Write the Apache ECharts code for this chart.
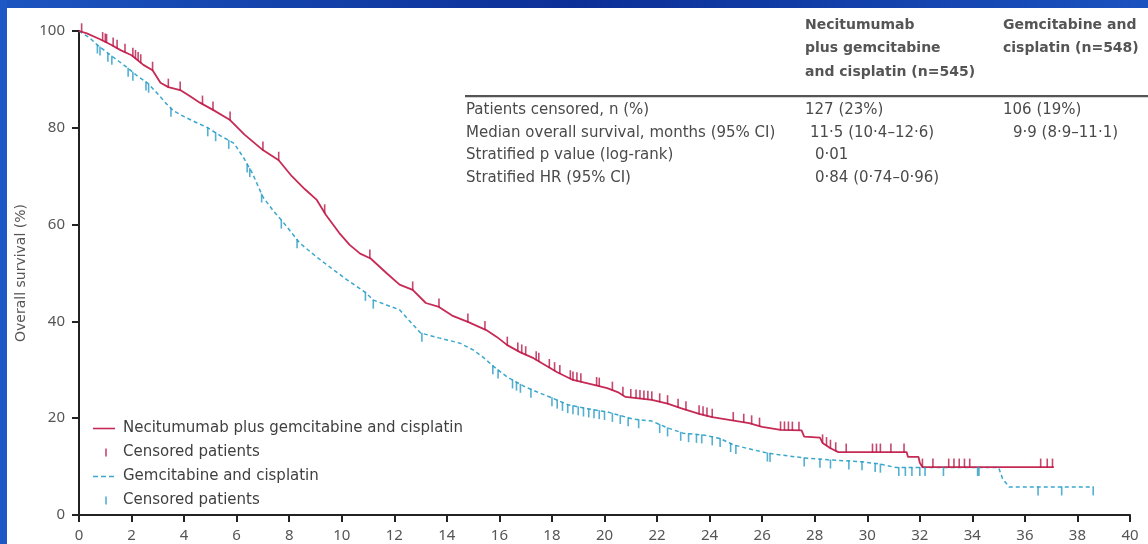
<!DOCTYPE html>
<html><head><meta charset="utf-8">
<script src="https://cdn.jsdelivr.net/npm/echarts@6/dist/echarts.min.js"></script>
<style>html,body{margin:0;padding:0;background:#fff}#c{width:1148px;height:544px}</style>
</head><body><div id="c"></div>
<script>
// ---------- data ----------
const xTickLabels = ['0','2','4','6','8','10','12','14','16','18','20','22','24','26','28','30','32','34','36','38','40'];
const yTickLabels = ['0','20','40','60','80','100'];

// Kaplan-Meier curves: [month, overall survival %]
const necitumumabCurve = [
  [0,100],[0.3,99.5],[0.8,98.3],[1.2,97.2],[1.6,96.0],[2.0,95.0],[2.45,93.0],[2.8,91.9],[3.1,89.3],[3.4,88.4],
  [3.85,87.8],[4.2,86.6],[4.6,85.2],[5.1,83.7],[5.75,81.6],[6.3,78.6],[7.0,75.4],[7.6,73.3],[8.1,70.0],[8.6,67.3],
  [9.05,65.1],[9.4,62.0],[9.9,58.3],[10.3,55.8],[10.7,54.0],[11.1,53.0],[11.7,50.0],[12.2,47.6],[12.7,46.5],[13.2,43.8],
  [13.7,43.0],[14.2,41.2],[14.8,39.9],[15.5,38.2],[15.9,36.8],[16.3,35.1],[16.8,33.6],[17.3,32.4],[17.8,30.8],[18.2,29.5],
  [18.8,27.9],[19.6,26.9],[20.1,26.2],[20.5,25.4],[20.8,24.4],[21.8,23.8],[22.4,23.0],[22.9,22.1],[23.6,20.9],[24.1,20.2],
  [24.8,19.6],[25.5,19.0],[26.0,18.2],[26.7,17.6],[27.5,17.5],[27.6,16.2],[28.2,16.0],[28.3,14.9],[28.6,13.8],[28.9,13.0],
  [31.5,13.0],[31.55,12.0],[31.95,12.0],[32.0,10.8],[32.1,9.9],[37.1,9.9]
];
const controlCurve = [
  [0,100],[0.4,98.6],[0.7,97.1],[1.2,95.0],[1.5,93.8],[1.8,92.6],[2.2,90.8],[2.6,89.3],[3.0,87.0],[3.3,85.1],
  [3.6,83.5],[4.0,82.3],[4.5,81.0],[4.9,80.0],[5.4,78.3],[5.9,76.8],[6.3,73.5],[6.6,70.6],[7.0,65.7],[7.4,62.8],
  [7.8,60.3],[8.4,56.2],[9.0,53.5],[9.7,50.6],[10.2,48.6],[10.9,46.0],[11.2,44.4],[11.7,43.4],[12.2,42.4],[12.6,40.0],
  [13.0,37.6],[13.7,36.6],[14.5,35.5],[15.0,34.1],[15.4,32.5],[15.8,30.6],[16.3,28.5],[17.0,26.4],[18.0,24.2],[18.6,22.8],
  [19.3,22.0],[20.1,21.3],[21.1,19.8],[21.8,19.4],[22.4,18.0],[23.0,16.9],[23.8,16.5],[24.4,15.8],[24.9,14.5],[25.4,13.8],
  [26.2,12.8],[26.7,12.4],[27.6,11.8],[28.5,11.4],[29.8,11.0],[30.5,10.5],[31.1,9.8],[35.0,9.8],[35.15,7.5],[35.4,5.8],
  [38.6,5.8]
];
// censoring times (months)
const necitumumabCensorTimes = [
  0.1,0.9,1.0,1.05,1.3,1.45,1.75,2.05,2.15,2.25,2.35,2.8,3.4,3.85,4.7,5.1,5.75,7.0,7.6,9.35,11.07,12.7,13.7,14.8,15.45,
  16.3,16.7,16.85,17.0,17.4,17.5,17.9,18.1,18.3,18.7,18.8,18.95,19.1,19.7,19.8,20.3,20.7,21.0,21.2,21.35,21.5,21.65,21.8,
  22.1,22.4,22.8,23.1,23.6,23.75,23.9,24.1,24.9,25.3,25.6,25.9,26.7,26.85,27.0,27.15,27.4,28.3,28.45,28.6,28.8,29.2,
  30.2,30.35,30.5,30.9,31.4,32.1,32.5,33.1,33.3,33.5,33.7,33.9,36.6,36.85,37.05
];
const controlCensorTimes = [
  0.7,0.8,1.1,1.25,1.87,2.05,2.55,2.65,3.5,4.9,5.2,5.7,6.4,6.5,6.95,7.7,8.3,10.9,11.2,13.05,15.75,15.95,16.5,16.65,16.8,
  17.2,18.0,18.2,18.4,18.6,18.8,19.0,19.2,19.4,19.6,19.8,20.0,20.3,20.6,20.9,21.3,22.1,22.4,22.9,23.2,23.5,23.7,24.1,24.4,
  24.8,25.0,26.2,26.3,27.6,28.2,28.6,29.3,29.8,30.3,30.5,31.2,31.45,31.7,32.0,32.2,32.9,34.2,34.25,36.5,37.4,38.6
];
const seriesNames = ['Necitumumab plus gemcitabine and cisplatin','Censored patients','Gemcitabine and cisplatin','Censored patients '];
const col1Header = ['Necitumumab','plus gemcitabine','and cisplatin (n=545)'];
const col2Header = ['Gemcitabine and','cisplatin (n=548)'];
const rowLabels = ['Patients censored, n (%)','Median overall survival, months (95% CI)','Stratified p value (log-rank)','Stratified HR (95% CI)'];
const col1Values = ['127 (23%)','11·5 (10·4–12·6)','0·01','0·84 (0·74–0·96)'];
const col2Values = ['106 (19%)','9·9 (8·9–11·1)','',''];

// ---------- helpers ----------
// place a censor mark on the drawn curve at time t
function survivalAt(curve, t){
  for (let i = 1; i < curve.length; i++){
    const a = curve[i-1], b = curve[i];
    if (t <= b[0]){
      if (b[0] === a[0]) return b[1];
      return a[1] + (b[1]-a[1]) * (t-a[0])/(b[0]-a[0]);
    }
  }
  return curve[curve.length-1][1];
}
const redCensor = necitumumabCensorTimes.map(t => [t, survivalAt(necitumumabCurve, t)]);
const blueCensor = controlCensorTimes.map(t => [t, survivalAt(controlCurve, t)]);

const RED = '#c62a55', RED_T = '#b8194a', BLUE = '#3aa7cc', BLUE_T = '#2a9bc4';
const FONT = '"DejaVu Sans", "Noto Sans", sans-serif';
const TXT = '#4a4a4a';

const graphics = [
  {type:'rect', shape:{x:0,y:0,width:1148,height:8}, style:{fill:new echarts.graphic.LinearGradient(0,0,1,0,[{offset:0,color:'#1c55c0'},{offset:0.5,color:'#0c2f96'},{offset:1,color:'#1a52bf'}])}, silent:true},
  {type:'rect', shape:{x:0,y:0,width:7,height:544}, style:{fill:'#1d58c4'}, silent:true},
  {type:'rect', shape:{x:465,y:95,width:683,height:2.2}, style:{fill:'#555'}, silent:true}
];
col1Header.forEach((s,i)=>graphics.push({type:'text', x:805, y:25+i*23.5, style:{text:s, font:'bold 14px '+FONT, fill:'#555', verticalAlign:'middle'}}));
col2Header.forEach((s,i)=>graphics.push({type:'text', x:1003, y:25+i*23.5, style:{text:s, font:'bold 14px '+FONT, fill:'#555', verticalAlign:'middle'}}));
const col1X = [805,810,815,815], col2X = [1003,1013,1013,1013];
rowLabels.forEach((s,i)=>{
  const y = 110 + i*22.7;
  graphics.push({type:'text', x:466, y:y, style:{text:s, font:'15px '+FONT, fill:TXT, verticalAlign:'middle'}});
  graphics.push({type:'text', x:col1X[i], y:y, style:{text:col1Values[i], font:'15px '+FONT, fill:TXT, verticalAlign:'middle'}});
  if (col2Values[i]) graphics.push({type:'text', x:col2X[i], y:y, style:{text:col2Values[i], font:'15px '+FONT, fill:TXT, verticalAlign:'middle'}});
});

const tickIcon = 'path://M0,0M25,14M12.2,3L13.8,3L13.8,11L12.2,11Z';
const solidIcon = 'path://M0,0M25,14M0,6.2L22,6.2L22,7.8L0,7.8Z';
const dashIcon = 'path://M0,0M25,14M0,6.2L5,6.2L5,7.8L0,7.8Z M8,6.2L13,6.2L13,7.8L8,7.8Z M16,6.2L21,6.2L21,7.8L16,7.8Z';

const chart = echarts.init(document.getElementById('c'), null, {renderer:'canvas'});
chart.setOption({
  backgroundColor:'#fff',
  animation:false,
  textStyle:{fontFamily:FONT},
  grid:{left:79, right:18, top:31, bottom:29, containLabel:false},
  xAxis:{
    type:'value', min:0, max:40, interval:2,
    axisLine:{show:true, lineStyle:{color:'#222', width:2}},
    axisTick:{show:true, length:7, lineStyle:{color:'#222', width:2}},
    axisLabel:{color:'#555', fontSize:15, margin:13, fontFamily:'"Noto Sans", sans-serif', formatter:(v)=>xTickLabels[Math.round(v/2)]},
    splitLine:{show:false}
  },
  yAxis:{
    type:'value', min:0, max:100, interval:20,
    name:'Overall survival (%)', nameLocation:'middle', nameGap:50, nameRotate:90,
    nameTextStyle:{color:'#555', fontSize:14, fontFamily:FONT},
    axisLine:{show:true, lineStyle:{color:'#222', width:2}},
    axisTick:{show:true, length:7, lineStyle:{color:'#222', width:2}},
    axisLabel:{color:'#555', fontSize:15, margin:14, fontFamily:'"Noto Sans", sans-serif', formatter:(v)=>yTickLabels[Math.round(v/20)]},
    splitLine:{show:false}
  },
  legend:{
    orient:'vertical', left:88, top:416, itemWidth:25, itemHeight:14, itemGap:9,
    textStyle:{color:'#3f3f3f', fontSize:15, fontFamily:FONT},
    formatter:(n)=>n.replace(/\s+$/,''),
    data:[
      {name:seriesNames[0], icon:solidIcon},
      {name:seriesNames[1], icon:tickIcon},
      {name:seriesNames[2], icon:dashIcon},
      {name:seriesNames[3], icon:tickIcon}
    ]
  },
  graphic:graphics,
  series:[
    {name:seriesNames[0], type:'line', data:necitumumabCurve, symbol:'none', showSymbol:false,
     lineStyle:{color:RED, width:1.8}, itemStyle:{color:RED}, z:3},
    {name:seriesNames[1], type:'scatter', data:redCensor, symbol:'rect', symbolSize:[1.6,9], symbolOffset:[0,-4],
     itemStyle:{color:RED_T}, z:4},
    {name:seriesNames[2], type:'line', data:controlCurve, symbol:'none', showSymbol:false,
     lineStyle:{color:BLUE, width:1.5, type:[4,3]}, itemStyle:{color:BLUE}, z:2},
    {name:seriesNames[3], type:'scatter', data:blueCensor, symbol:'rect', symbolSize:[1.6,9], symbolOffset:[0,4],
     itemStyle:{color:BLUE_T}, z:4}
  ]
});
</script></body></html>
